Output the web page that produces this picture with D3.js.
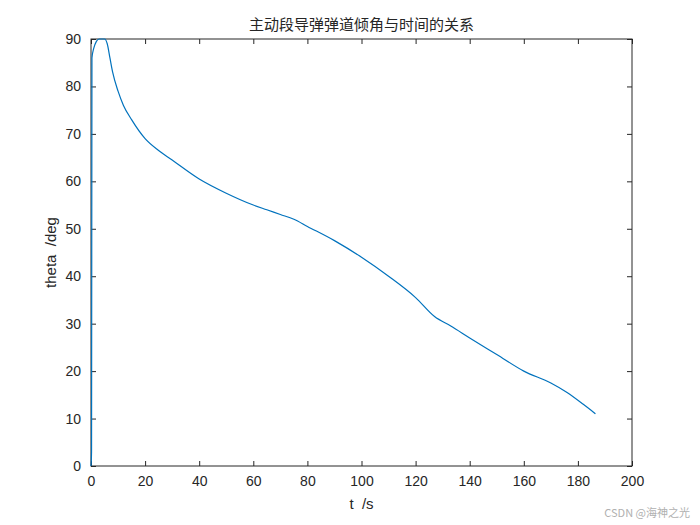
<!DOCTYPE html>
<html>
<head>
<meta charset="utf-8">
<script src="https://d3js.org/d3.v7.min.js"></script>
<style>
  body { margin: 0; background: #fff; }
  text { font-family: "Liberation Sans", Arial, sans-serif; }
</style>
</head>
<body>
<div id="chart"></div>
<script>
var tValues = [0, 0.2, 0.35, 1, 2, 3, 4, 5, 6, 7, 8, 10, 12, 15, 20, 25, 30, 40, 50, 60, 65, 70, 75, 80, 90, 100, 110, 120, 127, 133, 140, 150, 160, 170, 176, 182, 186.5];
var thetaValues = [0, 3, 86, 88, 89.5, 90, 90, 90, 89, 86, 83, 79, 76, 73, 69, 66.5, 64.5, 60.5, 57.5, 55, 54, 53, 52, 50.5, 47.5, 44, 40, 35.5, 31.5, 29.5, 27, 23.5, 20, 17.5, 15.5, 13, 11];
var xTicks = [0, 20, 40, 60, 80, 100, 120, 140, 160, 180, 200];
var yTicks = [0, 10, 20, 30, 40, 50, 60, 70, 80, 90];

var width = 700, height = 525;
var mLeft = 91, mRight = 632, mTop = 39, mBottom = 466;

var svg = d3.select('#chart').append('svg')
    .attr('width', width)
    .attr('height', height);

var x = d3.scaleLinear().domain([0, 200]).range([mLeft, mRight]);
var y = d3.scaleLinear().domain([0, 90]).range([mBottom, mTop]);

function styleAxis(g) {
    g.select('.domain').remove();
    g.selectAll('line').attr('stroke', '#262626');
    g.selectAll('text').attr('fill', '#262626').style('font-size', '14px');
}

svg.append('g').attr('transform', 'translate(0,' + mBottom + ')')
    .call(d3.axisBottom(x).tickValues(xTicks).tickSize(-5).tickPadding(10))
    .call(styleAxis);
svg.append('g').attr('transform', 'translate(' + mLeft + ',0)')
    .call(d3.axisLeft(y).tickValues(yTicks).tickSize(-5).tickPadding(10))
    .call(styleAxis);
svg.append('g').attr('transform', 'translate(0,' + mTop + ')')
    .call(d3.axisTop(x).tickValues(xTicks).tickSize(-5).tickFormat(''))
    .call(styleAxis);
svg.append('g').attr('transform', 'translate(' + mRight + ',0)')
    .call(d3.axisRight(y).tickValues(yTicks).tickSize(-5).tickFormat(''))
    .call(styleAxis);

svg.append('rect')
    .attr('x', mLeft).attr('y', mTop)
    .attr('width', mRight - mLeft).attr('height', mBottom - mTop)
    .attr('fill', 'none').attr('stroke', '#262626').attr('stroke-width', 1);

var data = tValues.map(function(t, i) { return { t: t, v: thetaValues[i] }; });
var line = d3.line()
    .x(function(d) { return x(d.t); })
    .y(function(d) { return y(d.v); })
    .curve(d3.curveMonotoneX);

svg.append('path')
    .datum(data)
    .attr('d', line)
    .attr('fill', 'none')
    .attr('stroke', '#0072BD')
    .attr('stroke-width', 1.2);

svg.append('text')
    .attr('x', (mLeft + mRight) / 2).attr('y', 30)
    .attr('text-anchor', 'middle')
    .style('font-family', '"Noto Sans CJK SC", sans-serif')
    .style('font-size', '15px')
    .attr('fill', '#262626')
    .text('主动段导弹弹道倾角与时间的关系');

svg.append('text')
    .attr('x', (mLeft + mRight) / 2).attr('y', 509)
    .attr('text-anchor', 'middle')
    .style('font-size', '15px')
    .attr('fill', '#262626')
    .attr('xml:space', 'preserve')
    .text('t  /s');

svg.append('text')
    .attr('transform', 'translate(56,' + ((mTop + mBottom) / 2) + ') rotate(-90)')
    .attr('text-anchor', 'middle')
    .style('font-size', '15px')
    .attr('fill', '#262626')
    .attr('xml:space', 'preserve')
    .text('theta  /deg');

svg.append('text')
    .attr('x', 690).attr('y', 517)
    .attr('text-anchor', 'end')
    .style('font-family', '"Noto Sans CJK SC", sans-serif')
    .style('font-size', '11px')
    .attr('fill', '#b0b0b0')
    .text('CSDN @海神之光');
</script>
</body>
</html>
